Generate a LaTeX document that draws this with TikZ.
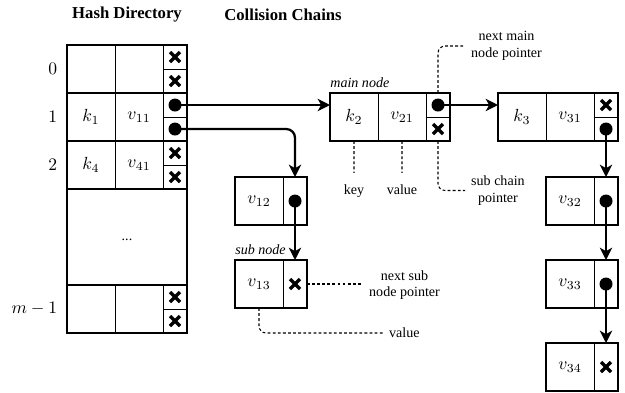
\documentclass[tikz,border=0pt]{standalone}
\usepackage{fontspec}
\setmainfont{Liberation Serif}
\usetikzlibrary{arrows.meta, positioning}

\begin{document}
\begin{tikzpicture}[
    cell/.style={draw, line width=0.5pt, minimum width=0.96cm, minimum height=0.96cm,
        inner sep=0pt, outer sep=0pt, anchor=north west},
    half/.style={cell, minimum width=0.48cm, minimum height=0.48cm},
    tall/.style={cell, minimum width=0.48cm},
    nilptr/.style={path picture={\draw[line width=1.9pt]
        ([shift={(-0.1,-0.1)}]path picture bounding box.center) --
        ([shift={(0.1,0.1)}]path picture bounding box.center)
        ([shift={(-0.1,0.1)}]path picture bounding box.center) --
        ([shift={(0.1,-0.1)}]path picture bounding box.center);}},
    isptr/.style={path picture={\fill
        (path picture bounding box.center) circle (0.13);}},
    rec/.style={line width=1.3pt},
    arr/.style={-{Stealth[length=7pt, width=7pt, inset=2pt]}, line width=1.3pt},
    note/.style={font=\footnotesize, align=center},
    tag/.style={font=\footnotesize\itshape, anchor=south west, inner xsep=0pt, inner ysep=3pt},
    lead/.style={dash pattern=on 1.6pt off 1.3pt, line width=0.6pt, rounded corners=4pt},
    head/.style={font=\fontsize{9.5}{11}\selectfont\bfseries},
]
\useasboundingbox (0, 0) rectangle (12.5, -7.84);

% === Headers ===
\node[head] (hdir) at (2.54, -0.30) {Hash Directory};
\node[head] (hcol) at (5.66, -0.30) {Collision Chains};

% === Hash directory ===
% row 0
\node[cell] (r0k) at (1.34, -0.90) {};
\node[cell] (r0v) at (2.30, -0.90) {};
\node[half, nilptr] (r0a) at (3.26, -0.90) {};
\node[half, nilptr] (r0b) at (3.26, -1.38) {};
\draw[rec] (r0k.north west) rectangle (r0b.south east);
% row 1
\node[cell] (r1k) at (1.34, -1.86) {$k_1$};
\node[cell] (r1v) at (2.30, -1.86) {$v_{11}$};
\node[half, isptr] (r1a) at (3.26, -1.86) {};
\node[half, isptr] (r1b) at (3.26, -2.34) {};
\draw[rec] (r1k.north west) rectangle (r1b.south east);
% row 2
\node[cell] (r2k) at (1.34, -2.82) {$k_4$};
\node[cell] (r2v) at (2.30, -2.82) {$v_{41}$};
\node[half, nilptr] (r2a) at (3.26, -2.82) {};
\node[half, nilptr] (r2b) at (3.26, -3.30) {};
\draw[rec] (r2k.north west) rectangle (r2b.south east);
% rows in between
\node[cell, rec, minimum width=2.40cm, minimum height=1.92cm,
    font=\footnotesize] (gap) at (1.34, -3.78) {\strut...};
% row m-1
\node[cell] (rmk) at (1.34, -5.70) {};
\node[cell] (rmv) at (2.30, -5.70) {};
\node[half, nilptr] (rma) at (3.26, -5.70) {};
\node[half, nilptr] (rmb) at (3.26, -6.18) {};
\draw[rec] (rmk.north west) rectangle (rmb.south east);
% row numbers
\node[left=2pt of r0k] (n0) {$0$};
\node[left=2pt of r1k] (n1) {$1$};
\node[left=2pt of r2k] (n2) {$2$};
\node[left=2pt of rmk] (nm) {$m-1$};

% === Main chain ===
\node[cell] (k2) at (6.60, -1.86) {$k_2$};
\node[cell] (v21) at (7.56, -1.86) {$v_{21}$};
\node[half, isptr] (k2a) at (8.52, -1.86) {};
\node[half, nilptr] (k2b) at (8.52, -2.34) {};
\draw[rec] (k2.north west) rectangle (k2b.south east);
\node[tag] (lmain) at (k2.north west) {main node};

\node[cell] (k3) at (9.96, -1.86) {$k_3$};
\node[cell] (v31) at (10.92, -1.86) {$v_{31}$};
\node[half, nilptr] (k3a) at (11.88, -1.86) {};
\node[half, isptr] (k3b) at (11.88, -2.34) {};
\draw[rec] (k3.north west) rectangle (k3b.south east);

% === Sub chains ===
\node[cell] (v12) at (4.70, -3.54) {$v_{12}$};
\node[tall, isptr] (p12) at (5.66, -3.54) {};
\draw[rec] (v12.north west) rectangle (p12.south east);

\node[cell] (v13) at (4.70, -5.20) {$v_{13}$};
\node[tall, nilptr] (p13) at (5.66, -5.20) {};
\draw[rec] (v13.north west) rectangle (p13.south east);
\node[tag] (lsub) at (v13.north west) {sub node};

\node[cell] (v32) at (10.92, -3.54) {$v_{32}$};
\node[tall, isptr] (p32) at (11.88, -3.54) {};
\draw[rec] (v32.north west) rectangle (p32.south east);

\node[cell] (v33) at (10.92, -5.20) {$v_{33}$};
\node[tall, isptr] (p33) at (11.88, -5.20) {};
\draw[rec] (v33.north west) rectangle (p33.south east);

\node[cell] (v34) at (10.92, -6.86) {$v_{34}$};
\node[tall, nilptr] (p34) at (11.88, -6.86) {};
\draw[rec] (v34.north west) rectangle (p34.south east);

% === Pointers ===
\draw[arr] (r1a.center) -- (r1a -| k2.west);
\draw[arr] (k2a.center) -- (k2a -| k3.west);
\draw[arr, rounded corners=5pt] (r1b.center) -| (p12.north);
\draw[arr] (p12.center) -- (p13.north);
\draw[arr] (k3b.center) -- (p32.north);
\draw[arr] (p32.center) -- (p33.north);
\draw[arr] (p33.center) -- (p34.north);

% === Annotations ===
\node[note, anchor=west] (nnext) at (9.30, -0.92) {next main\\node pointer};
\draw[lead] (k2a.north) |- (nnext.west);
\node[note, anchor=west] (nsubc) at (9.30, -3.81) {sub chain\\pointer};
\draw[lead] (k2b.south) |- (nsubc.west);
\node[note, anchor=base] (nkey) at (7.08, -3.88) {key};
\draw[lead, shorten >=3pt] (k2.south) -- (nkey.north);
\node[note, anchor=base] (nval) at (8.04, -3.88) {value};
\draw[lead, shorten >=3pt] (v21.south) -- (nval.north);
\node[note, anchor=west] (nsubn) at (7.26, -5.70) {next sub\\node pointer};
\draw[lead] (p13.east) -- (p13.east -| nsubn.west);
\node[note, anchor=west] (nval2) at (7.66, -6.66) {value};
\draw[lead] (v13.south) |- (nval2.west);

\end{tikzpicture}
\end{document}
